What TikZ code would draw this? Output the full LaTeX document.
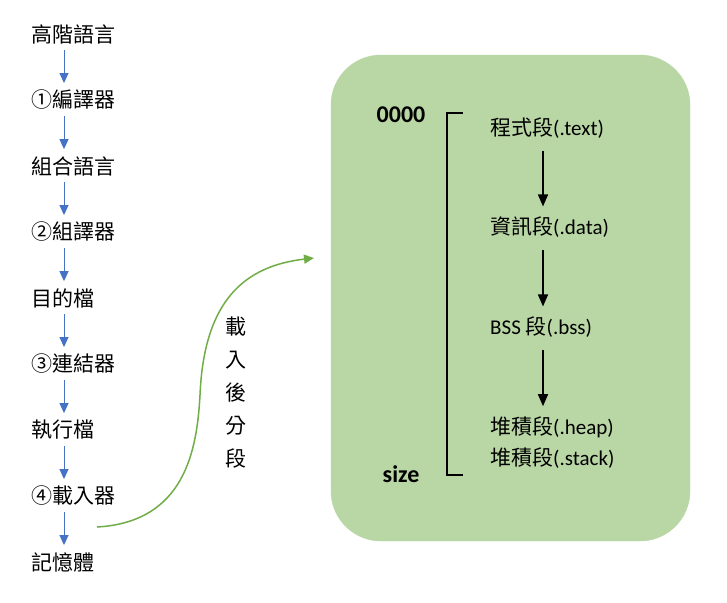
\documentclass[tikz,border=0pt]{standalone}
\usepackage{fontspec}
\setmainfont{Carlito}
\newfontfamily\cjk{Noto Sans CJK TC}
\usetikzlibrary{arrows.meta}
\definecolor{flowblue}{RGB}{68,114,196}
\definecolor{loadgreen}{RGB}{112,173,71}
\definecolor{segfill}{RGB}{185,214,165}

\begin{document}
\begin{tikzpicture}[x=1pt, y=-1pt,
    stage/.style={anchor=west, inner sep=2pt, font=\fontsize{21}{25}\selectfont\cjk},
    seg/.style={anchor=west, inner sep=2pt, font=\fontsize{21}{25}\selectfont},
    addr/.style={inner sep=0pt, font=\fontsize{24}{28}\selectfont\bfseries},
    flow/.style={flowblue, line width=1pt, -{Triangle[width=9pt,length=10pt]}, shorten <=4pt, shorten >=5pt},
    order/.style={black, line width=1.5pt, -{Triangle[width=10pt,length=12pt]}, shorten <=10pt, shorten >=8pt}]
        \useasboundingbox (0,0) rectangle (727,602);

        % Draw the memory block
        \draw[segfill, fill=segfill, rounded corners=50pt] (331,55) rectangle (690,541);

        % Draw the build chain
        \node[stage] (hll) at (29,34) {高階語言};
        \node[stage] (compiler) at (29,100) {①編譯器};
        \node[stage] (asm) at (29,166) {組合語言};
        \node[stage] (assembler) at (29,232) {②組譯器};
        \node[stage] (obj) at (29,298) {目的檔};
        \node[stage] (linker) at (29,364) {③連結器};
        \node[stage] (exe) at (29,430) {執行檔};
        \node[stage] (loader) at (29,496) {④載入器};
        \node[stage] (mem) at (29,562) {記憶體};
        \foreach \a/\b in {hll/compiler, compiler/asm, asm/assembler, assembler/obj,
                           obj/linker, linker/exe, exe/loader, loader/mem}
            \draw[flow] ([xshift=35pt]\a.south west) -- ([xshift=35pt]\b.north west);

        % Draw the load curve
        \coordinate (loadstart) at (97,527);
        \coordinate (loadend) at (314,258);
        \draw[loadgreen, line width=1.5pt, -{Triangle[width=9pt,length=10pt]}]
            (loadstart) .. controls (185,522) and (197,450) .. (200,395)
            .. controls (204,300) and (245,266) .. (loadend);
        \node[stage, anchor=center, align=center, font=\fontsize{21}{33}\selectfont\cjk]
            (loadlabel) at (236,393) {載\\入\\後\\分\\段};

        % Mark the address range
        \node[addr] (low) at (401,115) {0000};
        \node[addr] (high) at (401,474) {size};
        \draw[line width=1.5pt] (463,113) -- (447,113) -- (447,475) -- (463,475);

        % Draw the segments
        \node[seg] (text) at (488,128) {{\cjk 程式段}(.text)};
        \node[seg] (data) at (488,227) {{\cjk 資訊段}(.data)};
        \node[seg] (bss) at (488,327) {BSS {\cjk 段}(.bss)};
        \node[seg] (heap) at (488,427) {{\cjk 堆積段}(.heap)};
        \node[seg] (stack) at (488,458) {{\cjk 堆積段}(.stack)};
        \draw[order] ([xshift=55pt]text.south west) -- ([xshift=55pt]data.north west);
        \draw[order] ([xshift=55pt]data.south west) -- ([xshift=55pt]bss.north west);
        \draw[order] ([xshift=55pt]bss.south west) -- ([xshift=55pt]heap.north west);
\end{tikzpicture}
\end{document}
